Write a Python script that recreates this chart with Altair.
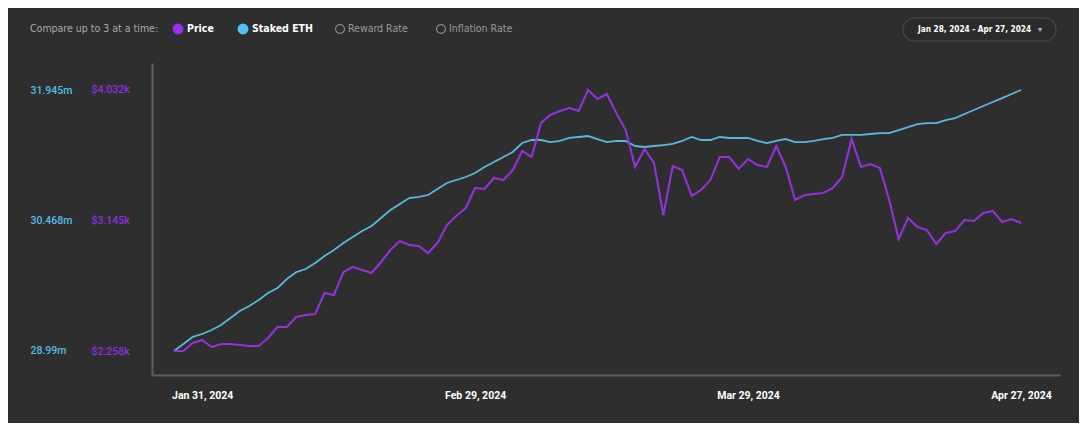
import altair as alt
import pandas as pd

# ---------------- data ----------------
start_date = "2024-01-28"
end_date = "2024-04-27"
dates = pd.date_range(start_date, end_date, freq="D").strftime("%Y-%m-%d").tolist()

price_usd = [
    2258, 2258, 2312, 2333, 2285, 2306, 2306, 2299, 2292, 2292,
    2346, 2421, 2421, 2489, 2503, 2509, 2652, 2639, 2795, 2829,
    2809, 2788, 2863, 2944, 3006, 2978, 2972, 2924, 2992, 3114,
    3176, 3230, 3366, 3359, 3434, 3420, 3488, 3617, 3577, 3808,
    3862, 3889, 3910, 3889, 4032, 3971, 4005, 3876, 3760, 3509,
    3631, 3536, 3182, 3515, 3488, 3312, 3352, 3420, 3577, 3577,
    3495, 3563, 3522, 3509, 3651, 3509, 3284, 3318, 3325, 3332,
    3366, 3441, 3699, 3509, 3529, 3502, 3284, 3019, 3162, 3101,
    3080, 2985, 3060, 3074, 3148, 3142, 3196, 3210, 3135, 3155,
    3128,
]

staked_eth_m = [
    28.990, 29.069, 29.149, 29.182, 29.228, 29.284, 29.364, 29.443, 29.499, 29.567,
    29.647, 29.703, 29.805, 29.884, 29.918, 29.986, 30.066, 30.134, 30.213, 30.281,
    30.349, 30.405, 30.496, 30.586, 30.654, 30.722, 30.734, 30.756, 30.824, 30.892,
    30.926, 30.960, 31.005, 31.073, 31.130, 31.186, 31.243, 31.345, 31.379, 31.379,
    31.356, 31.368, 31.402, 31.413, 31.424, 31.390, 31.356, 31.368, 31.368, 31.311,
    31.300, 31.311, 31.322, 31.334, 31.368, 31.413, 31.379, 31.379, 31.413, 31.402,
    31.402, 31.402, 31.368, 31.345, 31.368, 31.390, 31.356, 31.356, 31.368, 31.390,
    31.402, 31.436, 31.436, 31.436, 31.447, 31.458, 31.458, 31.492, 31.526, 31.560,
    31.571, 31.571, 31.605, 31.628, 31.673, 31.719, 31.764, 31.809, 31.854, 31.900,
    31.945,
]

header_prompt = "Compare up to 3 at a time:"
series_names = ["Price", "Staked ETH", "Reward Rate", "Inflation Rate"]
x_tick_dates = ["2024-01-31", "2024-02-29", "2024-03-29", "2024-04-27"]
price_ticks = [2258, 3145, 4032]
staked_ticks = [28.99, 30.468, 31.945]

# ---------------- styles ----------------
BG = "#2e2e2e"
PURPLE_LINE = "#9332d8"
BLUE_LINE = "#5bb8d9"
PURPLE_TEXT = "#8f2ee0"
BLUE_TEXT = "#54bde9"
AXIS_GRAY = "#5e5e5e"
NARROW = "Liberation Sans Narrow, DejaVu Sans Condensed, Roboto"
FONT = "Roboto, Inter, sans-serif"

df = pd.DataFrame({"date": dates, "price": price_usd, "staked": staked_eth_m})


def dt(s, hours=0, minutes=0):
    return alt.DateTime(year=int(s[:4]), month=int(s[5:7]), date=int(s[8:10]),
                        hours=hours, minutes=minutes, utc=True)


x_enc = alt.X(
    "date:T",
    scale=alt.Scale(type="utc", domain=[dt("2024-01-25", 16), dt("2024-05-01", 3, 28)]),
    axis=alt.Axis(
        values=[dt(s) for s in x_tick_dates],
        format="%b %d, %Y",
        title=None,
        grid=False,
        ticks=False,
        tickSize=0,
        domain=True,
        domainColor=AXIS_GRAY,
        domainWidth=2,
        labelColor="#ffffff",
        labelFont=FONT,
        labelFontWeight="bold",
        labelFontSize=10.5,
        labelPadding=15,
        labelFlush=False,
    ),
)

staked_line = alt.Chart(df).mark_line(color=BLUE_LINE, strokeWidth=1.8).encode(
    x=x_enc,
    y=alt.Y(
        "staked:Q",
        scale=alt.Scale(domain=[28.718, 32.251], nice=False, zero=False),
        axis=alt.Axis(
            orient="left",
            values=staked_ticks,
            labelExpr="format(datum.value, '.5~r') + 'm'",
            title=None,
            grid=False,
            ticks=False,
            tickSize=0,
            domain=False,
            labelColor=BLUE_TEXT,
            labelAlign="left",
            labelBaseline="middle",
            labelPadding=122,
            labelFont=FONT,
            labelFontSize=10.5,
            labelFontWeight=500,
        ),
    ),
)

price_line = alt.Chart(df).mark_line(color=PURPLE_LINE, strokeWidth=2.1).encode(
    x=x_enc,
    y=alt.Y(
        "price:Q",
        scale=alt.Scale(domain=[2094.9, 4215.5], nice=False, zero=False),
        axis=alt.Axis(
            orient="left",
            values=price_ticks,
            labelExpr="'$' + format(datum.value / 1000, '.3f') + 'k'",
            title=None,
            grid=False,
            ticks=False,
            tickSize=0,
            domain=True,
            domainColor=AXIS_GRAY,
            domainWidth=2,
            labelColor=PURPLE_TEXT,
            labelAlign="left",
            labelBaseline="middle",
            labelPadding=61,
            labelFont=FONT,
            labelFontSize=10.5,
            labelFontWeight=500,
        ),
    ),
)

lines = alt.layer(staked_line, price_line).resolve_scale(y="independent")

# ---------------- header (selector row and date pill) ----------------
one = pd.DataFrame({"k": [0]})
HY = -34


def header_text(txt, x, color, weight="normal", size=10.5, font=NARROW):
    return alt.Chart(pd.DataFrame({"t": [txt]})).mark_text(
        align="left", baseline="middle", color=color, fontWeight=weight,
        fontSize=size, font=font,
    ).encode(x=alt.value(x), y=alt.value(HY), text="t:N")


def header_dot(x, fill, stroke, filled=True):
    return alt.Chart(one).mark_point(
        shape="circle", filled=filled, size=95 if filled else 80,
        color=stroke, fill=fill if filled else "transparent", stroke=stroke,
        strokeWidth=1.2, opacity=1,
    ).encode(x=alt.value(x), y=alt.value(HY))


header = [
    header_text(header_prompt, -122, "#a9a9a9"),
    header_dot(26, "#9b2ff0", "#9b2ff0"),
    header_text(series_names[0], 35, "#ffffff", "bold"),
    header_dot(91, "#4fc3f7", "#4fc3f7"),
    header_text(series_names[1], 100, "#ffffff", "bold"),
    header_dot(188, None, "#8a8a8a", filled=False),
    header_text(series_names[2], 196, "#9a9a9a"),
    header_dot(289, None, "#8a8a8a", filled=False),
    header_text(series_names[3], 297, "#9a9a9a"),
]

pill = alt.Chart(one).mark_rect(
    cornerRadius=11.5, fill="#2b2b2b", stroke="#4a4a4a", strokeWidth=1.2,
).encode(x=alt.value(751), x2=alt.value(904), y=alt.value(-45), y2=alt.value(-22))

range_label = pd.Timestamp(start_date).strftime("%b %d, %Y") + " - " + pd.Timestamp(end_date).strftime("%b %d, %Y")
pill_text = alt.Chart(pd.DataFrame({"t": [range_label]})).mark_text(
    align="left", baseline="middle", color="#ffffff", fontWeight="bold",
    fontSize=8.2, font=NARROW,
).encode(x=alt.value(766), y=alt.value(-33), text="t:N")
caret = alt.Chart(pd.DataFrame({"t": ["▾"]})).mark_text(
    align="center", baseline="middle", color="#bbbbbb", fontSize=8, font=FONT,
).encode(x=alt.value(888), y=alt.value(-33), text="t:N")

chart = alt.layer(lines, *header, pill, pill_text, caret).resolve_scale(
    y="independent"
).properties(
    width=908,
    height=312,
    autosize=alt.AutoSizeParams(type="none"),
    padding={"left": 144, "top": 55, "right": 19, "bottom": 48},
    background=BG,
).configure_view(stroke=None)

chart.save("out.html", embed_options={"renderer": "svg", "actions": False})
